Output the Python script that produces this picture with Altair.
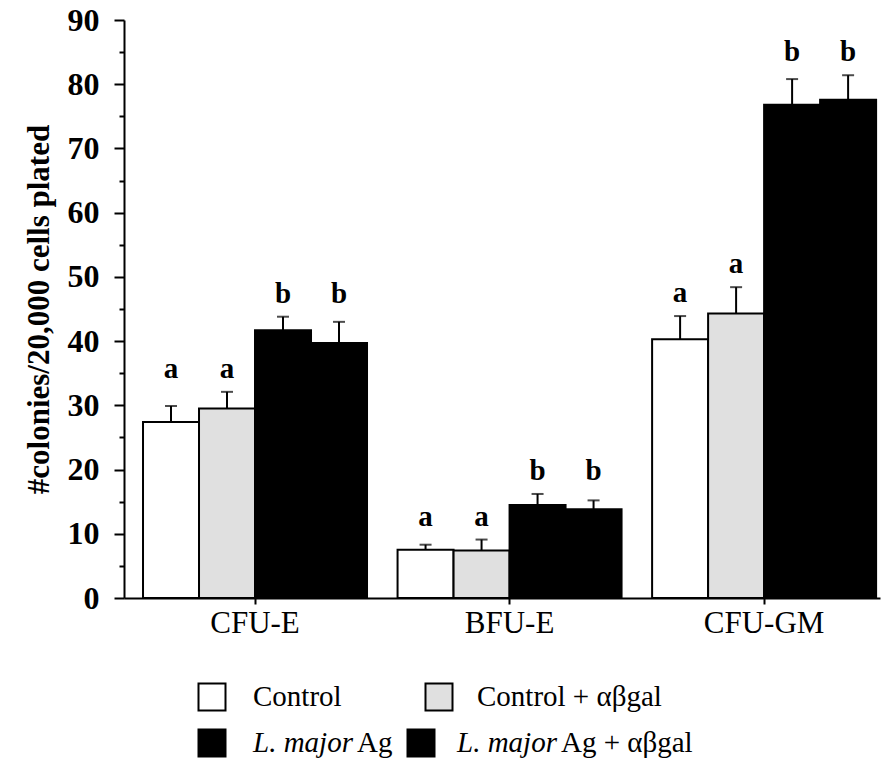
import altair as alt
import pandas as pd

# Colony-forming assays: mean colonies per 20,000 plated cells (+ SEM)
groups = ["CFU-E", "BFU-E", "CFU-GM"]
treatments = ["Control", "Control + αβgal", "L. major Ag", "L. major Ag + αβgal"]

cfu_e_mean = [27.4, 29.5, 41.7, 39.7]
cfu_e_sem = [2.5, 2.6, 2.1, 3.3]
cfu_e_letters = ["a", "a", "b", "b"]

bfu_e_mean = [7.5, 7.4, 14.5, 13.8]
bfu_e_sem = [0.8, 1.7, 1.7, 1.4]
bfu_e_letters = ["a", "a", "b", "b"]

cfu_gm_mean = [40.3, 44.3, 76.8, 77.6]
cfu_gm_sem = [3.6, 4.1, 4.0, 3.8]
cfu_gm_letters = ["a", "a", "b", "b"]

fill_colors = ["#ffffff", "#e0e0e0", "#000000", "#000000"]
FONT = "Liberation Serif"

rows = []
for g, means, sems, lets in zip(
    groups,
    [cfu_e_mean, bfu_e_mean, cfu_gm_mean],
    [cfu_e_sem, bfu_e_sem, cfu_gm_sem],
    [cfu_e_letters, bfu_e_letters, cfu_gm_letters],
):
    for t, m, s, l in zip(treatments, means, sems, lets):
        rows.append({"group": g, "treatment": t, "mean": m, "sem": s,
                     "top": round(m + s, 2), "letter": l})
df = pd.DataFrame(rows)


# letters of one group sit level when their error bars end close together
def label_base(r):
    peers = df[(df.group == r.group) & (df.letter == r.letter)
               & ((df.top - r.top).abs() <= 3)]
    return peers.top.max()


df["label_base"] = df.apply(label_base, axis=1)

W, H = 756, 578
Y_TITLE = "#colonies/20,000 cells plated"

fill_scale = alt.Scale(domain=treatments, range=fill_colors)
x_enc = alt.X("group:N", sort=groups, title=None,
              scale=alt.Scale(paddingInner=0.12, paddingOuter=0.045, align=0.83),
              axis=alt.Axis(labelAngle=0, labelFontSize=31, labelFontWeight="normal",
                            tickSize=6, tickWidth=2, labelPadding=4,
                            domainWidth=2))
xo_enc = alt.XOffset("treatment:N", sort=treatments,
                     scale=alt.Scale(paddingInner=0, paddingOuter=0))
y_scale = alt.Scale(domain=[0, 90], nice=False)
y_axis = alt.Axis(
    values=list(range(0, 91, 5)),
    labelExpr="datum.value % 10 === 0 ? datum.label : ''",
    tickSize={"condition": {"test": "datum.value % 10 === 0", "value": 10}, "value": 5},
    tickWidth=2, domainWidth=2, labelPadding=15,
    labelFontSize=32, labelFontWeight="bold",
    titleFontSize=31, titleFontWeight="bold", titlePadding=12,
)

base = alt.Chart(df)

bars = base.mark_bar(stroke="black", strokeWidth=2).encode(
    x=x_enc, xOffset=xo_enc,
    y=alt.Y("mean:Q", scale=y_scale, axis=y_axis, title=Y_TITLE),
    fill=alt.Fill("treatment:N", scale=fill_scale, legend=None),
)

err = base.mark_rule(color="black", strokeWidth=2).encode(
    x=x_enc, xOffset=xo_enc,
    y=alt.Y("mean:Q", scale=y_scale, axis=y_axis, title=Y_TITLE),
    y2="top:Q",
)

caps = base.mark_tick(color="black", orient="horizontal", size=12, thickness=2).encode(
    x=x_enc, xOffset=xo_enc,
    y=alt.Y("top:Q", scale=y_scale, axis=y_axis, title=Y_TITLE),
)

letters = base.mark_text(font=FONT, fontSize=29, fontWeight="bold",
                         baseline="alphabetic", dy=-14, color="black").encode(
    x=x_enc, xOffset=xo_enc,
    y=alt.Y("label_base:Q", scale=y_scale, axis=y_axis, title=Y_TITLE),
    text="letter:N",
)

# hand-set legend below the plot: swatch centre x, text x, row centre y
legend_layout = [
    (88, 129, 677),
    (315, 353, 677),
    (88, 129, 723),
    (297, 333, 723),
]
LEG_SIZE = 29
legend_layers = []
for t, (sx, tx, ry) in zip(treatments, legend_layout):
    one = alt.Chart(pd.DataFrame({"treatment": [t]}))
    legend_layers.append(
        one.mark_square(size=27 * 27, stroke="black", strokeWidth=2, opacity=1).encode(
            x=alt.value(sx), y=alt.value(ry),
            fill=alt.Fill("treatment:N", scale=fill_scale, legend=None),
        )
    )
    if t.startswith("L. major"):
        rest = t[len("L. major"):].strip()
        legend_layers.append(
            one.mark_text(font=FONT, fontSize=LEG_SIZE, fontStyle="italic", align="left",
                          baseline="middle", color="black", text="L. major").encode(
                x=alt.value(tx), y=alt.value(ry))
        )
        legend_layers.append(
            one.mark_text(font=FONT, fontSize=LEG_SIZE, align="left", baseline="middle",
                          color="black", text=rest).encode(
                x=alt.value(tx + 104), y=alt.value(ry))
        )
    else:
        legend_layers.append(
            one.mark_text(font=FONT, fontSize=LEG_SIZE, align="left", baseline="middle",
                          color="black", text=t).encode(
                x=alt.value(tx), y=alt.value(ry))
        )

chart = alt.layer(bars, err, caps, letters, *legend_layers).properties(
    width=W, height=H,
    background="white",
    autosize=alt.AutoSizeParams(type="none"),
    padding={"left": 124, "top": 20, "right": 3, "bottom": 167},
).configure_view(stroke=None).configure_axis(
    grid=False, domainColor="black", tickColor="black",
    labelColor="black", titleColor="black",
    labelFont=FONT, titleFont=FONT,
)

chart.save("out.html", embed_options={"renderer": "svg", "actions": False})
